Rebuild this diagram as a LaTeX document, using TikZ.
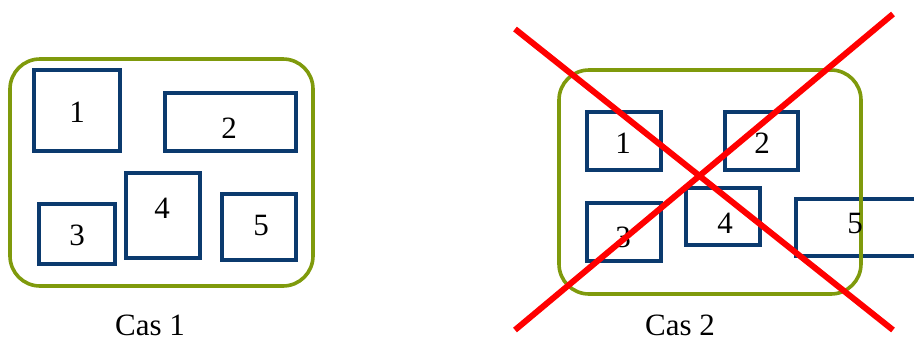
\documentclass[tikz,border=0pt]{standalone}
\usepackage{fontspec}
\setmainfont{Liberation Serif}
\usepackage{tikz}
\usetikzlibrary{positioning}
\definecolor{moss}{HTML}{7F9A0C}
\definecolor{deepblue}{HTML}{0B3A6E}
\definecolor{strike}{HTML}{FF0000}

\begin{document}
\begin{tikzpicture}[x=1pt,y=-1pt,font=\fontsize{31}{36}\selectfont,
  zone/.style={draw=moss,line width=3.6pt,rounded corners=30pt,inner sep=0pt},
  piece/.style={draw=deepblue,line width=4pt,inner sep=0pt},
  digit/.style={inner sep=0pt},
  cross/.style={draw=strike,line width=6pt}]
\useasboundingbox (0,0) rectangle (914,341);
\clip (0,0) rectangle (914,341);
% cas 1
\node[zone,minimum width=303pt,minimum height=227pt] (z1) at (161.5,172.5) {};
\node[piece,minimum width=86pt,minimum height=81pt] (a1) at (77,110.5) {};
\node[piece,minimum width=131pt,minimum height=58pt] (a2) at (230.5,122) {};
\node[piece,minimum width=76pt,minimum height=60pt] (a3) at (77,234) {};
\node[piece,minimum width=74pt,minimum height=85pt] (a4) at (163,215.5) {};
\node[piece,minimum width=74pt,minimum height=66pt] (a5) at (259,227) {};
\node[digit] (na1) at (77,112) {1};
\node[digit] (na2) at (229,128) {2};
\node[digit] (na3) at (77,235) {3};
\node[digit] (na4) at (162,208) {4};
\node[digit] (na5) at (261,225) {5};
\node[digit] (cas1) at (150,325) {Cas 1};
% cas 2
\node[piece,minimum width=74pt,minimum height=58pt] (b1) at (624,141) {};
\node[piece,minimum width=73pt,minimum height=58pt] (b2) at (761.5,141) {};
\node[piece,minimum width=74pt,minimum height=58pt] (b3) at (624,232) {};
\node[piece,minimum width=74pt,minimum height=57pt] (b4) at (723,216.5) {};
\node[piece,minimum width=140pt,minimum height=57pt,anchor=west] (b5) at (794,227.5) {};
\node[zone,minimum width=302pt,minimum height=224pt] (z2) at (710,182) {};
\node[digit] (nb1) at (623,143) {1};
\node[digit] (nb2) at (762,143) {2};
\node[digit] (nb3) at (623,237) {3};
\node[digit] (nb4) at (725,223) {4};
\node[digit] (nb5) at (855,223) {5};
\node[digit] (cas2) at (680,325) {Cas 2};
\coordinate (p1) at (515,29);
\coordinate (p2) at (893,330);
\coordinate (p3) at (515,330);
\coordinate (p4) at (893,14);
\draw[cross] (p1) -- (p2);
\draw[cross] (p3) -- (p4);
\end{tikzpicture}
\end{document}
